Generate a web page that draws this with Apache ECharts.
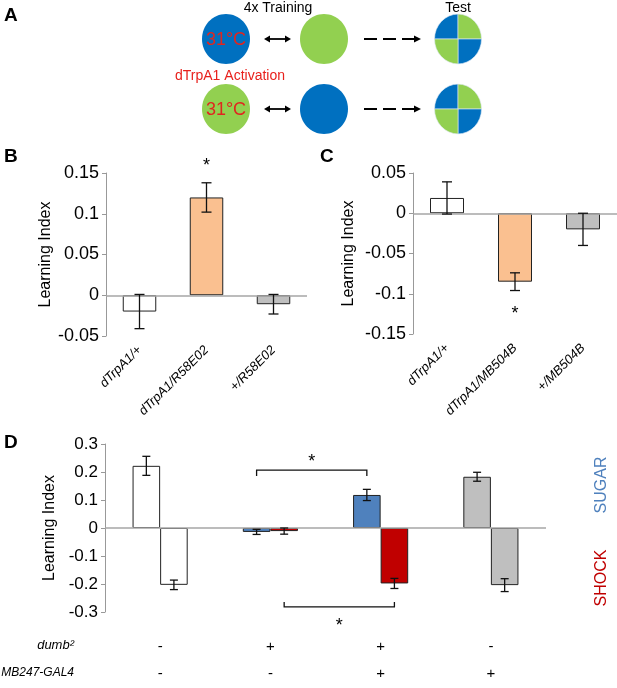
<!DOCTYPE html>
<html>
<head>
<meta charset="utf-8">
<script src="https://cdn.jsdelivr.net/npm/echarts@6/dist/echarts.min.js"></script>
<style>
html,body{margin:0;padding:0;background:#fff;}
#chart{width:617px;height:688px;}
</style>
</head>
<body>
<div id="chart"></div>
<script>
// ---------- data ----------
const bCategories = ['dTrpA1/+', 'dTrpA1/R58E02', '+/R58E02'];
const bValues = [-0.020, 0.120, -0.011];
const bErrors = [0.021, 0.018, 0.012];

const cCategories = ['dTrpA1/+', 'dTrpA1/MB504B', '+/MB504B'];
const cValues = [0.019, -0.085, -0.020];
const cErrors = [0.020, 0.011, 0.020];

const dumbRow = ['-', '+', '+', '-'];
const mbRow = ['-', '-', '+', '+'];
const sugarValues = [0.222, -0.014, 0.118, 0.183];
const sugarErrors = [0.034, 0.009, 0.020, 0.016];
const shockValues = [-0.203, -0.011, -0.198, -0.204];
const shockErrors = [0.017, 0.011, 0.018, 0.023];

// significance stars: [category, level]
const bStars = [[1, 0.164]];
const cStars = [[1, -0.120]];
// brackets in D: [fromCat, toCat, barLevel, tickEnd, starLevel, side(-1 sugar, +1 shock)]
const dBrackets = [[1, 2, 0.207, 0.186, 0.250, -1], [1, 2, -0.282, -0.264, -0.336, 1]];

// ---------- styles ----------
const FONT = "'Liberation Sans', Arial, sans-serif";
const bColors = ['#ffffff', '#fac090', '#bfbfbf'];
const cColors = ['#ffffff', '#fac090', '#bfbfbf'];
const sugarColors = ['#ffffff', '#4f81bd', '#4f81bd', '#bfbfbf'];
const shockColors = ['#ffffff', '#c00000', '#c00000', '#bfbfbf'];
const BLUE = '#0070c0', GREEN = '#92d050';

function errRender(frac, cap) {
  return function (params, api) {
    const x = api.value(0), v = api.value(1), e = api.value(2);
    const band = api.size([1, 0])[0];
    const t = api.coord([x, v + e]);
    const b = api.coord([x, v - e]);
    const cx = t[0] + frac * band;
    const st = { stroke: '#111', lineWidth: 1.3 };
    return { type: 'group', children: [
      { type: 'line', shape: { x1: cx, y1: t[1], x2: cx, y2: b[1] }, style: st },
      { type: 'line', shape: { x1: cx - cap, y1: t[1], x2: cx + cap, y2: t[1] }, style: st },
      { type: 'line', shape: { x1: cx - cap, y1: b[1], x2: cx + cap, y2: b[1] }, style: st }
    ]};
  };
}
function starRender(params, api) {
  const p = api.coord([api.value(0), api.value(1)]);
  return { type: 'text', x: p[0], y: p[1] + 4, style: { text: '*', font: '18px ' + FONT, fill: '#000', align: 'center', verticalAlign: 'middle' } };
}
function bracketRender(params, api) {
  const f = api.value(0), t = api.value(1), y = api.value(2), te = api.value(3), sy = api.value(4), side = api.value(5);
  const band = api.size([1, 0])[0];
  const x1 = api.coord([f, y])[0] + side * 0.125 * band;
  const x2 = api.coord([t, y])[0] + side * 0.125 * band;
  const py = api.coord([f, y])[1];
  const pt = api.coord([f, te])[1];
  const ps = api.coord([f, sy])[1];
  return { type: 'group', children: [
    { type: 'polyline', shape: { points: [[x1, pt], [x1, py], [x2, py], [x2, pt]] }, style: { stroke: '#111', lineWidth: 1.3, fill: null } },
    { type: 'text', x: (x1 + x2) / 2, y: ps + 4, style: { text: '*', font: '18px ' + FONT, fill: '#000', align: 'center', verticalAlign: 'middle' } }
  ]};
}

function yAxisCfg(gi, min, max, interval, gap, fs) {
  return {
    type: 'value', gridIndex: gi, min: min, max: max, interval: interval,
    name: 'Learning Index', nameLocation: 'middle', nameGap: gap,
    nameTextStyle: { fontFamily: FONT, fontSize: 16, color: '#000' },
    axisLine: { show: true, lineStyle: { color: '#999', width: 1 } },
    axisTick: { show: true, inside: false, length: 4, lineStyle: { color: '#999' } },
    splitLine: { show: false },
    axisLabel: { fontFamily: FONT, fontSize: fs, color: '#000', margin: 7 }
  };
}
function catAxis(gi, data, rotated) {
  return {
    type: 'category', gridIndex: gi, data: data, position: 'bottom',
    axisLine: { show: false, onZero: false }, axisTick: { show: false },
    axisLabel: rotated ?
      { rotate: 45, fontFamily: FONT, fontStyle: 'italic', fontSize: 13, color: '#000', margin: 12, interval: 0 } :
      { fontFamily: FONT, fontSize: 15, color: '#000', margin: 21, lineHeight: 27, interval: 0 }
  };
}
const zeroLine = { silent: true, symbol: 'none', label: { show: false }, lineStyle: { color: '#a6a6a6', width: 1.5, type: 'solid' }, data: [{ yAxis: 0 }] };
const barBorder = { borderColor: '#222', borderWidth: 1 };

// ---------- panel A graphics ----------
function quartered(cx, cy) {
  const r = 23.5;
  const q = (s, e, c) => ({ type: 'sector', shape: { cx: 0, cy: 0, r: r, startAngle: s, endAngle: e }, style: { fill: c, stroke: '#dfe9f3', lineWidth: 0.6 } });
  return { type: 'group', x: cx, y: cy, scaleY: 1.06, children: [
    q(Math.PI, 1.5 * Math.PI, BLUE), q(1.5 * Math.PI, 2 * Math.PI, GREEN),
    q(0, 0.5 * Math.PI, BLUE), q(0.5 * Math.PI, Math.PI, GREEN)
  ]};
}
function ell(cx, cy, c) { return { type: 'ellipse', shape: { cx: cx, cy: cy, rx: 24, ry: 25 }, style: { fill: c } }; }
function temp(cx, cy) { return { type: 'text', x: cx, y: cy, style: { text: '31°C', font: '18px ' + FONT, fill: '#e0261f', align: 'center', verticalAlign: 'middle' } }; }
function dblArrow(y) {
  const x1 = 264, x2 = 291;
  return [
    { type: 'line', shape: { x1: x1 + 4, y1: y, x2: x2 - 4, y2: y }, style: { stroke: '#000', lineWidth: 1.8 } },
    { type: 'polygon', shape: { points: [[x1, y], [x1 + 6, y - 3.5], [x1 + 6, y + 3.5]] }, style: { fill: '#000' } },
    { type: 'polygon', shape: { points: [[x2, y], [x2 - 6, y - 3.5], [x2 - 6, y + 3.5]] }, style: { fill: '#000' } }
  ];
}
function dashArrow(y) {
  return [
    { type: 'line', shape: { x1: 364, y1: y, x2: 415, y2: y }, style: { stroke: '#000', lineWidth: 1.8, lineDash: [13, 6] } },
    { type: 'polygon', shape: { points: [[421, y], [414, y - 3.5], [414, y + 3.5]] }, style: { fill: '#000' } }
  ];
}
function txt(x, y, s, opt) {
  return Object.assign({ type: 'text', x: x, y: y, style: Object.assign({ text: s, font: '14px ' + FONT, fill: '#000', align: 'center', verticalAlign: 'middle' }, opt || {}) });
}
const R1 = 39, R2 = 109;
const graphics = [
  txt(4, 16, 'A', { font: 'bold 19px ' + FONT, align: 'left' }),
  txt(4, 157, 'B', { font: 'bold 19px ' + FONT, align: 'left' }),
  txt(320, 157, 'C', { font: 'bold 19px ' + FONT, align: 'left' }),
  txt(4, 443, 'D', { font: 'bold 19px ' + FONT, align: 'left' }),
  txt(278, 8, '4x Training'),
  txt(458, 8, 'Test'),
  ell(226, R1, BLUE), temp(226, R1 + 1),
  ell(324, R1, GREEN),
  quartered(458, R1),
  txt(230, 76, 'dTrpA1 Activation', { fill: '#e8211c' }),
  ell(226, R2, GREEN), temp(226, R2 + 1),
  ell(324, R2, BLUE),
  quartered(458, R2),
  ...dblArrow(R1), ...dblArrow(R2), ...dashArrow(R1), ...dashArrow(R2),
  txt(74, 645, 'dumb²', { font: 'italic 13px ' + FONT, align: 'right' }),
  txt(74, 673, 'MB247-GAL4', { font: 'italic 12px ' + FONT, align: 'right' }),
  { type: 'text', x: 602, y: 485, rotation: Math.PI / 2, style: { text: 'SUGAR', font: '16px ' + FONT, fill: '#4f81bd', align: 'center', verticalAlign: 'middle' } },
  { type: 'text', x: 602, y: 578, rotation: Math.PI / 2, style: { text: 'SHOCK', font: '16px ' + FONT, fill: '#c00000', align: 'center', verticalAlign: 'middle' } }
];

const option = {
  animation: false,
  backgroundColor: '#ffffff',
  grid: [
    { left: 106, top: 173, width: 201, height: 163 },
    { left: 413, top: 173, width: 204, height: 161 },
    { left: 105, top: 444, width: 441, height: 168 }
  ],
  xAxis: [
    catAxis(0, bCategories, true),
    catAxis(1, cCategories, true),
    catAxis(2, dumbRow.map((d, i) => d + '\n' + mbRow[i]), false)
  ],
  yAxis: [
    yAxisCfg(0, -0.05, 0.15, 0.05, 50, 18),
    yAxisCfg(1, -0.15, 0.05, 0.05, 56, 18),
    yAxisCfg(2, -0.3, 0.3, 0.1, 46, 17)
  ],
  graphic: graphics,
  series: [
    { type: 'bar', xAxisIndex: 0, yAxisIndex: 0, barWidth: '50%', itemStyle: barBorder,
      data: bValues.map((v, i) => ({ value: v, itemStyle: { color: bColors[i] } })), markLine: zeroLine },
    { type: 'custom', xAxisIndex: 0, yAxisIndex: 0, z: 5, clip: false, renderItem: errRender(0, 5),
      data: bValues.map((v, i) => [i, v, bErrors[i]]) },
    { type: 'custom', xAxisIndex: 0, yAxisIndex: 0, z: 5, clip: false, renderItem: starRender, data: bStars },

    { type: 'bar', xAxisIndex: 1, yAxisIndex: 1, barWidth: '50%', itemStyle: barBorder,
      data: cValues.map((v, i) => ({ value: v, itemStyle: { color: cColors[i] } })), markLine: zeroLine },
    { type: 'custom', xAxisIndex: 1, yAxisIndex: 1, z: 5, clip: false, renderItem: errRender(0, 5),
      data: cValues.map((v, i) => [i, v, cErrors[i]]) },
    { type: 'custom', xAxisIndex: 1, yAxisIndex: 1, z: 5, clip: false, renderItem: starRender, data: cStars },

    { type: 'bar', name: 'SUGAR', xAxisIndex: 2, yAxisIndex: 2, barWidth: '25%', barGap: '0%', itemStyle: barBorder,
      data: sugarValues.map((v, i) => ({ value: v, itemStyle: { color: sugarColors[i] } })), markLine: zeroLine },
    { type: 'bar', name: 'SHOCK', xAxisIndex: 2, yAxisIndex: 2, barWidth: '25%', barGap: '0%', itemStyle: barBorder,
      data: shockValues.map((v, i) => ({ value: v, itemStyle: { color: shockColors[i] } })) },
    { type: 'custom', xAxisIndex: 2, yAxisIndex: 2, z: 5, clip: false, renderItem: errRender(-0.125, 4),
      data: sugarValues.map((v, i) => [i, v, sugarErrors[i]]) },
    { type: 'custom', xAxisIndex: 2, yAxisIndex: 2, z: 5, clip: false, renderItem: errRender(0.125, 4),
      data: shockValues.map((v, i) => [i, v, shockErrors[i]]) },
    { type: 'custom', xAxisIndex: 2, yAxisIndex: 2, z: 5, clip: false, renderItem: bracketRender, data: dBrackets }
  ]
};
const chart = echarts.init(document.getElementById('chart'), null, { renderer: 'canvas' });
chart.setOption(option);
</script>
</body>
</html>
